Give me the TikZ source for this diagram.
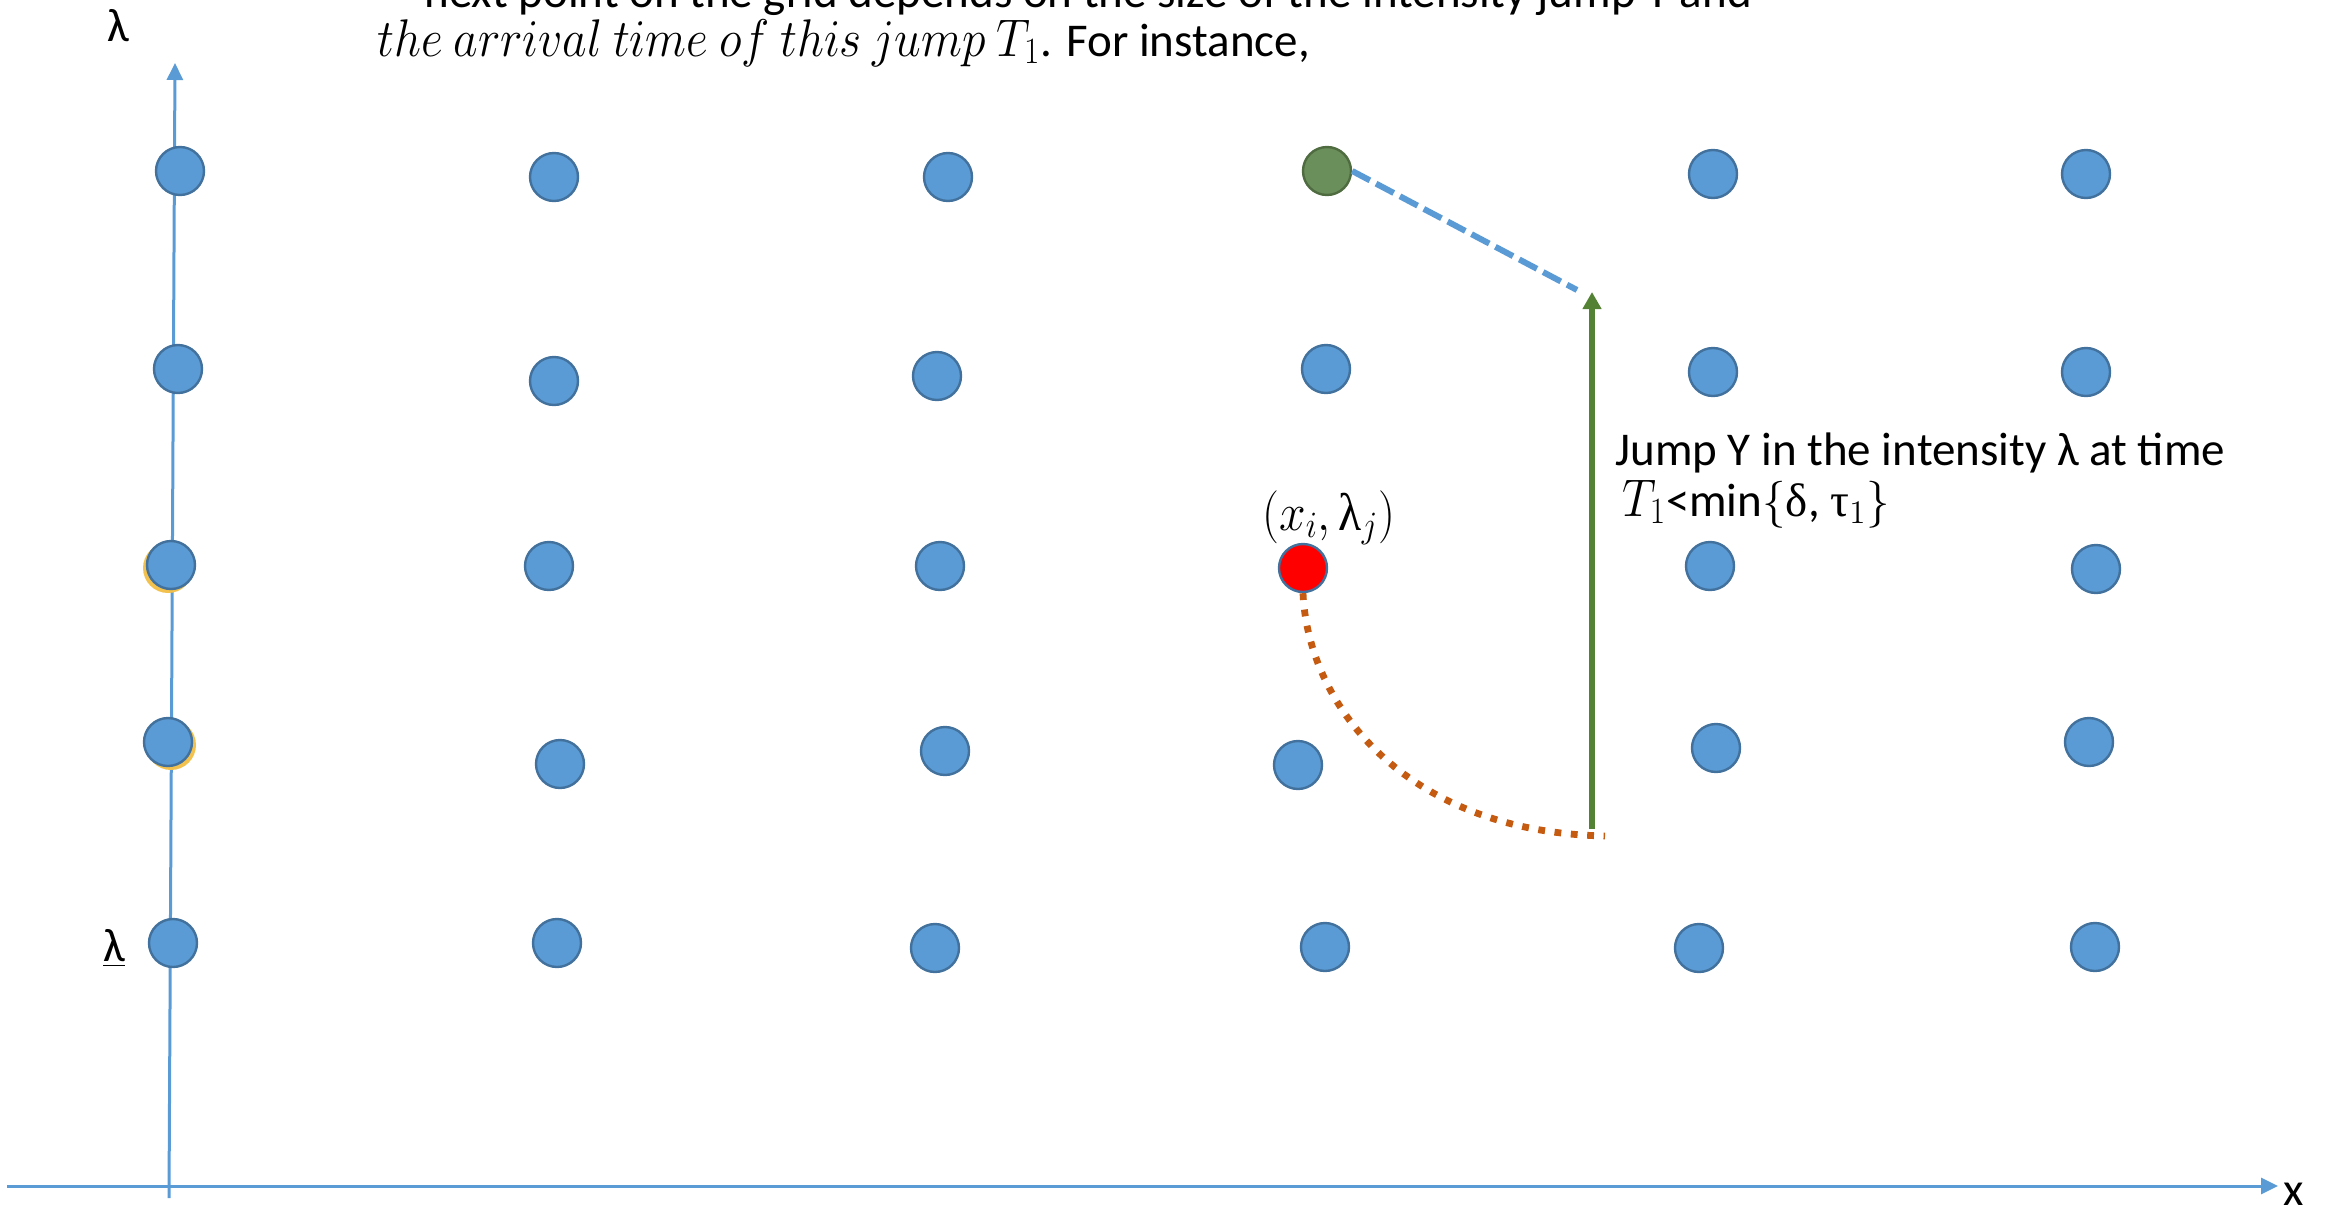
\RequirePackage{fix-cm}
\documentclass[tikz,border=0pt]{standalone}
\usepackage{fontspec}
\usepackage{graphicx}
\setmainfont{Carlito}
\newfontfamily\grk{Liberation Serif}
\usetikzlibrary{arrows.meta}
\definecolor{dotblue}{HTML}{5B9BD5}
\definecolor{dotedge}{HTML}{41719C}
\definecolor{gfill}{HTML}{6B8F5B}
\definecolor{gedge}{HTML}{4F6B40}
\definecolor{arrgreen}{HTML}{548235}
\definecolor{curveorange}{HTML}{C55A11}
\definecolor{shadowyellow}{HTML}{F2C14E}
\newcommand{\bigmath}[1]{\scalebox{0.9}[1]{\fontsize{26.5}{30}\selectfont #1}}
\begin{document}
\begin{tikzpicture}[x=0.5pt,y=-0.5pt,
  font=\fontsize{23.5}{28}\selectfont,
  gdot/.style={circle,draw=dotedge,fill=dotblue,line width=1.2pt,minimum size=24pt,inner sep=0pt},
  shdot/.style={circle,fill=shadowyellow,minimum size=25pt,inner sep=0pt},
  reddot/.style={gdot,fill=red},
  greendot/.style={gdot,draw=gedge,fill=gfill},
  axis/.style={draw=dotblue,line width=1.5pt,-{Triangle[length=8.5pt,width=8pt]}},
  txt/.style={inner sep=0pt,anchor=base west}]
\useasboundingbox (0,0) rectangle (2331,1210);
\clip (0,0) rectangle (2331,1210);
% axes
\coordinate (ybot) at (169,1198);
\coordinate (ytop) at (175,63);
\coordinate (xleft) at (7,1186);
\coordinate (xright) at (2278,1186);
\draw[axis] (ybot) -- (ytop);
\draw[axis] (xleft) -- (xright);
\node (lamtop) at (118,26) {λ};
\node (lamlow) at (114,948) {\underline{λ}};
\node[inner sep=1pt] (xlab) at (2294,1194) {x};
% shadows
\node[shdot] (s3) at (168,568) {};
\node[shdot] (s4) at (171,745) {};
% row 1
\node[gdot] (a1) at (180,171) {};
\node[gdot] (a2) at (554,177) {};
\node[gdot] (a3) at (948,177) {};
\node[greendot] (g) at (1327,171) {};
\node[gdot] (a5) at (1713,174) {};
\node[gdot] (a6) at (2086,174) {};
% row 2
\node[gdot] (b1) at (178,369) {};
\node[gdot] (b2) at (554,381) {};
\node[gdot] (b3) at (937,376) {};
\node[gdot] (b4) at (1326,369) {};
\node[gdot] (b5) at (1713,372) {};
\node[gdot] (b6) at (2086,372) {};
% row 3
\node[gdot] (c1) at (171,565) {};
\node[gdot] (c2) at (549,566) {};
\node[gdot] (c3) at (940,566) {};
\node[reddot] (r) at (1303,568) {};
\node[gdot] (c5) at (1710,566) {};
\node[gdot] (c6) at (2096,569) {};
% row 4
\node[gdot] (d1) at (168,742) {};
\node[gdot] (d2) at (560,764) {};
\node[gdot] (d3) at (945,751) {};
\node[gdot] (d4) at (1298,765) {};
\node[gdot] (d5) at (1716,748) {};
\node[gdot] (d6) at (2089,742) {};
% row 5
\node[gdot] (e1) at (173,943) {};
\node[gdot] (e2) at (557,943) {};
\node[gdot] (e3) at (935,948) {};
\node[gdot] (e4) at (1325,947) {};
\node[gdot] (e5) at (1699,948) {};
\node[gdot] (e6) at (2095,947) {};
% connectors
\coordinate (cend) at (1605,836);
\coordinate (abase) at (1592,829);
\coordinate (atip) at (1592,292);
\coordinate (dend) at (1577,290);
\draw[curveorange,line width=3.4pt,dash pattern=on 3.4pt off 4.8pt]
  (r.south) .. controls (1308,705) and (1405,832) .. (cend);
\draw[arrgreen,line width=2.9pt,-{Triangle[length=8.5pt,width=9pt]}] (abase) -- (atip);
\draw[dotblue,line width=3pt,dash pattern=on 10pt off 3.5pt] (g.east) -- (dend);
% labels
\node[txt] (xl) at (1262,530) {\bigmath{$(x_i,\hbox{\grk λ}_j)$}};
\node[txt] (j1) at (1615,465) {Jump Y in the intensity λ at time};
\node[txt] (j2) at (1622,516) {\bigmath{$T_1$}<min$\{$\hbox{\grk δ}, \hbox{\grk τ}${}_1\}$};
\node[txt] (t1) at (424,7) {next point on the grid depends on the size of the intensity jump Y and};
\node[txt] (t2) at (377,56) {\bigmath{$the\ arrival\ time\ of\ this\ jump\ T_1$}. For instance,};
\end{tikzpicture}
\end{document}
